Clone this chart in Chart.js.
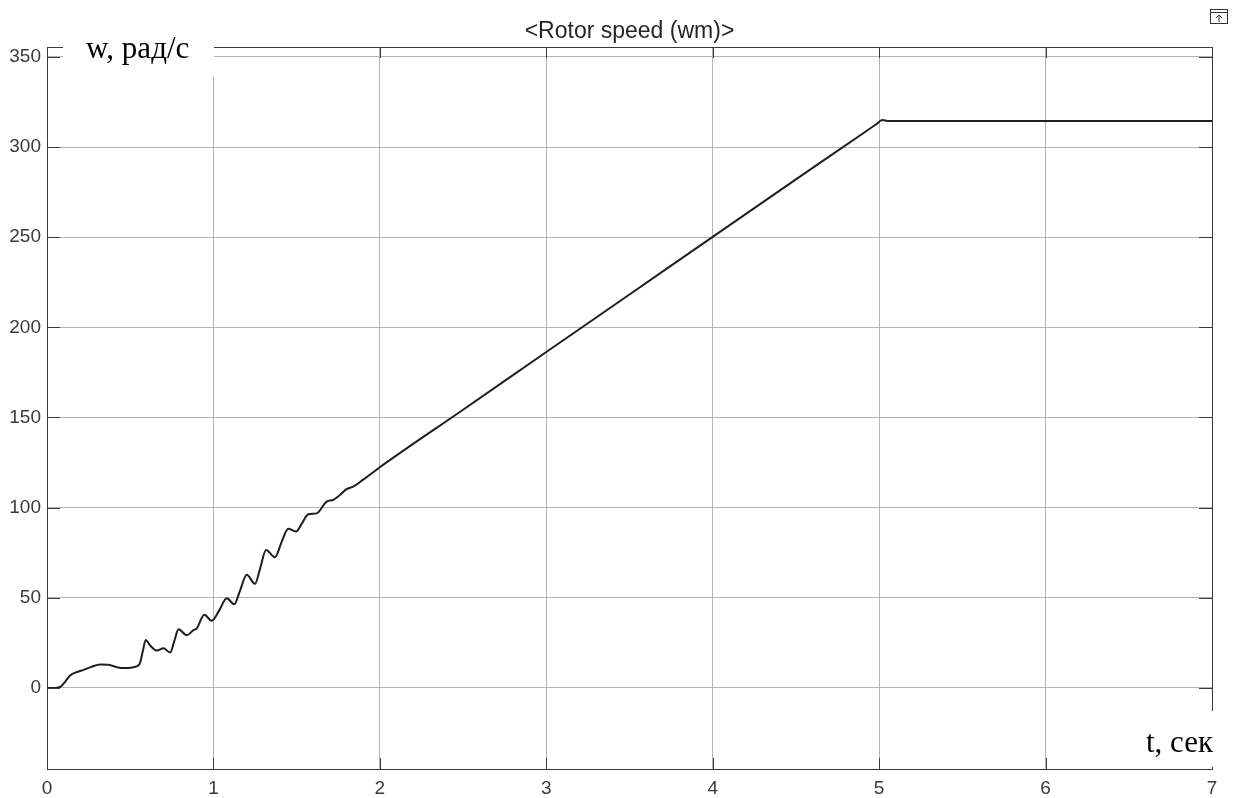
<!DOCTYPE html>
<html lang="ru">
<head>
    <meta charset="UTF-8">
    <title>Rotor speed</title>
    <script src="https://cdn.jsdelivr.net/npm/chart.js"></script>
    <style>
        html, body { margin: 0; padding: 0; background: #fff; }
        #wrap { width: 1233px; height: 798px; }
    </style>
</head>
<body>
    <div id="wrap"><canvas id="speedChart" width="1233" height="798"></canvas></div>

    <script>
        // time, s
        const timeSec = [0, 0.05, 0.08, 0.11, 0.14, 0.18, 0.22, 0.27, 0.32, 0.37, 0.42, 0.47, 0.52,
            0.555, 0.575, 0.593, 0.62, 0.66, 0.70, 0.74, 0.765, 0.79, 0.84, 0.88, 0.90, 0.945, 0.99,
            1.035, 1.08, 1.125, 1.16, 1.20, 1.25, 1.28, 1.316, 1.37, 1.41, 1.45, 1.496, 1.53, 1.57,
            1.62, 1.68, 1.72, 1.76, 1.80, 1.84, 1.90, 2.0, 2.5, 3.0, 3.5, 4.0, 4.5, 4.9, 4.98,
            5.02, 5.05, 5.5, 6.0, 6.5, 7.0];
        // rotor speed, rad/s
        const speed = [0, 0, 0.5, 3.5, 7, 8.8, 10, 11.8, 13, 12.8, 11.5, 11, 11.5,
            13, 20, 26.6, 23.5, 20.7, 22, 19.6, 26, 32.5, 29.2, 32, 33, 40.5, 37.3,
            43, 49.7, 46.4, 54, 62.7, 57.7, 66, 76.5, 72.5, 81, 88.2, 86.7, 91, 96.3,
            96.8, 103.3, 104.3, 107, 110.2, 111.6, 115.5, 122.4, 154.3, 186.3, 218.2, 250.2, 282.1, 307.4, 312.5,
            315, 314.5, 314.5, 314.5, 314.5, 314.5];

        const xTicks = [0, 1, 2, 3, 4, 5, 6, 7];
        const yTicks = [0, 50, 100, 150, 200, 250, 300, 350];

        const titleText = '<Rotor speed (wm)>';
        const yLabel = 'w, рад/с';
        const xLabel = 't, сек';

        // frame, inner tick marks, title, axis labels, toolbar icon
        const decor = {
            id: 'decor',
            afterDraw(chart) {
                const c = chart.ctx, a = chart.chartArea;
                const xs = chart.scales.x, ys = chart.scales.y;
                c.save();
                c.strokeStyle = '#3a3a3a';
                c.lineWidth = 1;
                c.strokeRect(a.left + 0.5, a.top + 0.5, a.right - a.left, a.bottom - a.top);
                c.beginPath();
                xTicks.forEach(v => {
                    const px = Math.round(xs.getPixelForValue(v)) + 0.5;
                    c.moveTo(px, a.bottom); c.lineTo(px, a.bottom - 11);
                    c.moveTo(px, a.top); c.lineTo(px, a.top + 11);
                });
                yTicks.forEach(v => {
                    const py = Math.round(ys.getPixelForValue(v)) + 0.5;
                    c.moveTo(a.left, py); c.lineTo(a.left + 13, py);
                    c.moveTo(a.right, py); c.lineTo(a.right - 13, py);
                });
                c.stroke();

                // title
                c.fillStyle = '#262626';
                c.font = '23px "Liberation Sans", Arial, sans-serif';
                c.textAlign = 'center';
                c.textBaseline = 'middle';
                c.fillText(titleText, (a.left + a.right) / 2, 32);

                // axis labels on white boxes
                c.fillStyle = '#fff';
                c.fillRect(63, 36, 151, 41);
                c.fillRect(1128, 711, 105, 56);
                c.fillStyle = '#000';
                c.font = '31px "Liberation Serif", "Times New Roman", serif';
                c.textAlign = 'left';
                c.textBaseline = 'alphabetic';
                c.fillText(yLabel, 86, 58);
                c.fillText(xLabel, 1146, 752);

                // small toolbar icon
                c.strokeStyle = '#333';
                c.strokeRect(1210.5, 9.5, 17, 14);
                c.beginPath();
                c.moveTo(1210.5, 12.5); c.lineTo(1227.5, 12.5);
                c.moveTo(1219, 22); c.lineTo(1219, 15);
                c.moveTo(1216, 18); c.lineTo(1219, 15); c.lineTo(1222, 18);
                c.stroke();
                c.restore();
            }
        };

        const ctx = document.getElementById('speedChart').getContext('2d');
        const speedChart = new Chart(ctx, {
            type: 'line',
            data: {
                datasets: [{
                    data: timeSec.map((t, i) => ({ x: t, y: speed[i] })),
                    borderColor: '#1e1e1e',
                    borderWidth: 2,
                    pointRadius: 0,
                    fill: false,
                    cubicInterpolationMode: 'monotone'
                }]
            },
            options: {
                responsive: false,
                animation: false,
                layout: { padding: { left: 0, right: 21, top: 47, bottom: 0 } },
                plugins: { legend: { display: false }, tooltip: { enabled: false } },
                scales: {
                    x: {
                        type: 'linear',
                        min: 0,
                        max: 7,
                        afterBuildTicks: s => { s.ticks = xTicks.map(v => ({ value: v })); },
                        afterFit: s => { s.height = 29; },
                        grid: { color: '#b4b4b4', drawTicks: false },
                        border: { color: '#3a3a3a' },
                        ticks: {
                            padding: 8,
                            color: '#3a3a3a',
                            font: { family: '"Liberation Sans", Arial, sans-serif', size: 19 }
                        }
                    },
                    y: {
                        min: -45,
                        max: 355.5,
                        afterBuildTicks: s => { s.ticks = yTicks.map(v => ({ value: v })); },
                        afterFit: s => { s.width = 47; },
                        grid: { color: '#b4b4b4', drawTicks: false },
                        border: { color: '#3a3a3a' },
                        ticks: {
                            padding: 6,
                            color: '#3a3a3a',
                            font: { family: '"Liberation Sans", Arial, sans-serif', size: 19 }
                        }
                    }
                }
            },
            plugins: [decor]
        });
    </script>
</body>
</html>
